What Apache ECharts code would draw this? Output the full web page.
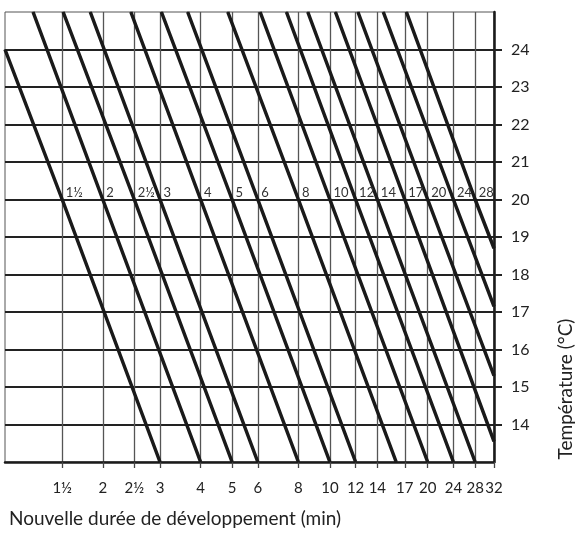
<!DOCTYPE html>
<html>
<head>
<meta charset="utf-8">
<script src="https://cdn.jsdelivr.net/npm/echarts@6/dist/echarts.min.js"></script>
<style>
  html, body { margin: 0; padding: 0; background: #fff; }
  #chart { width: 578px; height: 533px; }
</style>
</head>
<body>
<div id="chart"></div>
<script>
var lineLabels = ['1½', '2', '2½', '3', '4', '5', '6', '8', '10', '12', '14', '17', '20', '24', '28'];
var timeAt20   = [1.5, 2, 2.5, 3, 4, 5, 6, 8, 10, 12, 14, 17, 20, 24, 28];
var startTime  = [1, 1.22, 1.51, 1.83, 2.44, 3.03, 3.65, 4.85, 6.1, 7.35, 8.55, 10.4, 12.2, 14.6, 17.2];
var startTemp  = [24, 25, 25, 25, 25, 25, 25, 25, 25, 25, 25, 25, 25, 25, 25];
var endTime    = [3, 4, 5, 6, 8, 10, 12, 16, 20, 24, 28, 32, 32, 32, 32];
var endTemp    = [13, 13, 13, 13, 13, 13, 13, 13, 13, 13, 13, 13.55, 15.3, 17.15, 18.7];

// graduations
var timeTicks  = [1.5, 2, 2.5, 3, 4, 5, 6, 8, 10, 12, 14, 17, 20, 24, 28, 32];
var tempTicks  = [14, 15, 16, 17, 18, 19, 20, 21, 22, 23, 24];

var font = 'Lato, "Open Sans", sans-serif';

var series = [];
for (var i = 0; i < lineLabels.length; i++) {
	series.push({
		type: 'line',
		name: lineLabels[i],
		symbol: 'circle',
		symbolSize: 1,
		showSymbol: true,
		silent: true,
		z: 3,
		itemStyle: { color: '#1a1a1a' },
		lineStyle: { color: '#1a1a1a', width: 3.5 },
		data: [
			[startTime[i], startTemp[i]],
			{
				value: [timeAt20[i], 20],
				label: {
					show: true,
					formatter: lineLabels[i],
					position: 'right',
					distance: 3,
					offset: [0, -7],
					fontFamily: font,
					fontSize: 13,
					color: '#333'
				}
			},
			[endTime[i], endTemp[i]]
		]
	});
}

var myChart = echarts.init(document.getElementById('chart'));
var option = {
	animation: false,
	title: {
		text: 'Nouvelle durée de développement (min)',
		left: 9,
		top: 509,
		padding: 0,
		textStyle: { fontFamily: font, fontSize: 19, fontWeight: 'normal', color: '#222' }
	},
	graphic: [{
		type: 'text',
		x: 566,
		y: 389,
		rotation: Math.PI / 2,
		style: {
			text: 'Température (°C)',
			font: '19px ' + font,
			fill: '#222',
			textAlign: 'center',
			textVerticalAlign: 'middle'
		}
	}],
	grid: {
		left: 5,
		right: 84,
		top: 12,
		bottom: 71,
		show: true,
		borderColor: '#555',
		borderWidth: 1
	},
	xAxis: {
		type: 'log',
		logBase: 2,
		min: 1,
		max: 32,
		axisLine: { show: true, lineStyle: { color: '#1a1a1a', width: 2.5 } },
		axisTick: {
			show: true,
			customValues: timeTicks,
			length: 6,
			lineStyle: { color: '#444', width: 1.3 }
		},
		axisLabel: {
			customValues: timeTicks,
			margin: 19,
			fontFamily: font,
			fontSize: 15,
			color: '#222',
			formatter: function (v) {
				if (v === 1.5) return '1½';
				if (v === 2.5) return '2½';
				return String(v);
			}
		},
		splitLine: { show: true, lineStyle: { color: '#555', width: 1.3 } },
		minorSplitLine: { show: false }
	},
	yAxis: {
		type: 'value',
		position: 'right',
		min: 13,
		max: 25,
		interval: 1,
		axisLine: { show: true, lineStyle: { color: '#1a1a1a', width: 2.5 } },
		axisTick: {
			show: true,
			customValues: tempTicks,
			length: 8,
			lineStyle: { color: '#222', width: 2 }
		},
		axisLabel: {
			customValues: tempTicks,
			margin: 17,
			fontFamily: font,
			fontSize: 16,
			color: '#222'
		},
		splitLine: { show: true, lineStyle: { color: '#222', width: 2 } }
	},
	series: series
};
myChart.setOption(option);
window.onresize = function () {
	myChart.resize();
};
</script>
</body>
</html>
